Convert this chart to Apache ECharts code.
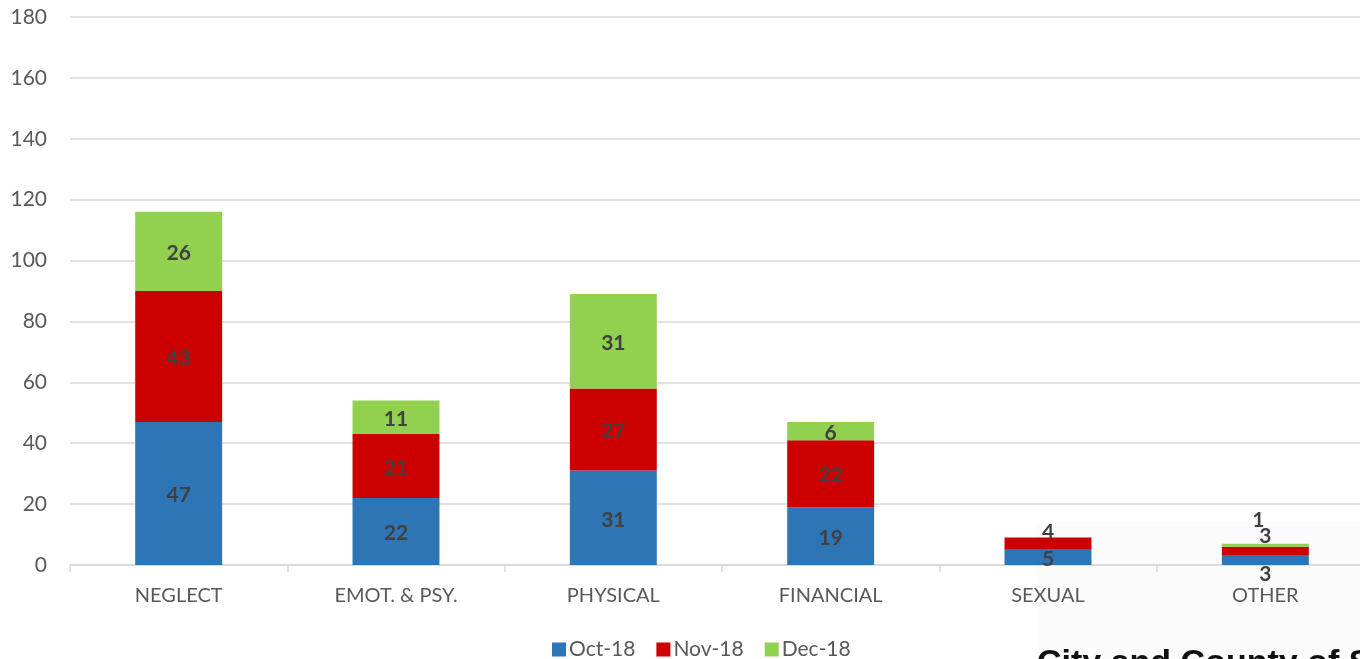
<!DOCTYPE html>
<html>
<head>
<meta charset="utf-8">
<script src="https://cdn.jsdelivr.net/npm/echarts@6/dist/echarts.min.js"></script>
<style>
  html, body { margin: 0; padding: 0; background: #ffffff; overflow: hidden; }
  #chart { width: 1374px; height: 659px; }
</style>
</head>
<body>
<div id="chart"></div>
<script>
// Abuse reports by type, stacked by month
const categories = ['NEGLECT', 'EMOT. & PSY.', 'PHYSICAL', 'FINANCIAL', 'SEXUAL', 'OTHER'];
const months = ['Oct-18', 'Nov-18', 'Dec-18'];
const oct18 = [47, 22, 31, 19, 5, 3];
const nov18 = [43, 21, 27, 22, 4, 3];
const dec18 = [26, 11, 31, 6, 0, 1];

const FONT = 'Lato, "Noto Sans", sans-serif';
const colors = ['#2e75b6', '#cc0000', '#92d050'];

// Thin segments get their value label moved outside the bar
const labelTweaks = {
  'Oct-18': { 5: { position: 'bottom', distance: -3 } },
  'Nov-18': { 4: { position: 'top', distance: -3 }, 5: { position: 'top', distance: 2 } },
  'Dec-18': { 5: { position: 'top', distance: 13, offset: [-7, 0] } }
};

function buildData(name, values) {
  const tweaks = labelTweaks[name] || {};
  return values.map((v, i) => tweaks[i] ? { value: v, label: tweaks[i] } : v);
}

const seriesValues = [oct18, nov18, dec18];

const chart = echarts.init(document.getElementById('chart'), null, { renderer: 'canvas' });

chart.setOption({
  animation: false,
  color: colors,
  graphic: [
    {
      type: 'rect',
      z: -1,
      shape: { x: 1037, y: 522, width: 337, height: 137 },
      style: { fill: '#fbfbfb' }
    },
    {
      type: 'text',
      z: 100,
      x: 1037,
      y: 664,
      style: {
        text: 'City and County of San Francisco',
        font: 'bold 34px "Liberation Sans", Arial, sans-serif',
        fill: '#111111',
        verticalAlign: 'middle',
        align: 'left'
      }
    }
  ],
  grid: { left: 70, top: 17, right: 0, bottom: 94, containLabel: false },
  legend: {
    data: months,
    left: 547,
    top: 634,
    icon: 'rect',
    itemWidth: 14,
    itemHeight: 14,
    itemGap: 21,
    textStyle: { fontFamily: FONT, fontSize: 21, color: '#595959', padding: [0, 0, 0, -2] }
  },
  xAxis: {
    type: 'category',
    data: categories,
    axisLine: { lineStyle: { color: '#d9d9d9', width: 1.5 } },
    axisTick: { show: true, length: 7, lineStyle: { color: '#d9d9d9', width: 1.5 } },
    axisLabel: { fontFamily: FONT, fontSize: 20, color: '#595959', margin: 21 }
  },
  yAxis: {
    type: 'value',
    min: 0,
    max: 180,
    interval: 20,
    axisLine: { show: false },
    axisTick: { show: false },
    splitLine: { lineStyle: { color: '#d9d9d9', width: 1.5 } },
    axisLabel: { fontFamily: FONT, fontSize: 21, color: '#595959', margin: 23 }
  },
  series: months.map((m, k) => ({
    name: m,
    type: 'bar',
    stack: 'total',
    barWidth: '40%',
    data: buildData(m, seriesValues[k]),
    label: {
      show: true,
      position: 'inside',
      offset: [0, 2],
      fontFamily: FONT,
      fontWeight: 'bold',
      fontSize: 21,
      color: '#404040',
      formatter: p => (p.value ? String(p.value) : '')
    }
  }))
});
</script>
</body>
</html>
